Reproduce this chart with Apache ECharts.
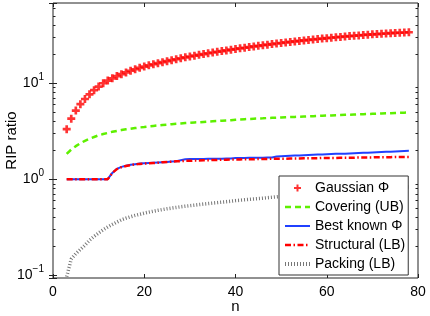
<!DOCTYPE html>
<html><head><meta charset="utf-8">
<script src="https://cdn.jsdelivr.net/npm/echarts@6/dist/echarts.min.js"></script>
<style>html,body{margin:0;padding:0;background:#fff}#c{width:430px;height:316px}</style>
</head><body><div id="c"></div>
<script>
// ---- data ----
const nValues = [3,4,5,6,7,8,9,10,11,12,13,14,15,16,17,18,19,20,21,22,23,24,25,26,27,28,29,30,31,32,33,34,35,36,37,38,39,40,41,42,43,44,45,46,47,48,49,50,51,52,53,54,55,56,57,58,59,60,61,62,63,64,65,66,67,68,69,70,71,72,73,74,75,76,77,78];
const gaussianPhi = [3.3,4.25,5.15,6.0,6.8,7.6,8.4,9.15,9.9,10.55,11.15,11.75,12.31,12.84,13.35,13.84,14.31,14.76,15.19,15.6,16.0,16.4,16.8,17.2,17.6,18.0,18.4,18.78,19.16,19.54,19.91,20.28,20.65,21.02,21.38,21.74,22.1,22.45,22.81,23.17,23.53,23.88,24.23,24.58,24.93,25.27,25.61,25.95,26.28,26.61,26.94,27.26,27.58,27.9,28.21,28.52,28.83,29.13,29.43,29.73,30.02,30.3,30.58,30.85,31.12,31.38,31.63,31.88,32.12,32.35,32.57,32.78,32.98,33.17,33.35,33.52];
const coveringUB = [1.83,2.03,2.2,2.36,2.5,2.63,2.74,2.85,2.94,3.02,3.1,3.17,3.23,3.29,3.34,3.39,3.44,3.48,3.53,3.57,3.61,3.65,3.68,3.72,3.75,3.78,3.82,3.85,3.88,3.9,3.93,3.96,3.99,4.01,4.04,4.06,4.09,4.13,4.16,4.19,4.22,4.24,4.26,4.28,4.31,4.33,4.35,4.37,4.39,4.41,4.43,4.45,4.47,4.49,4.51,4.53,4.55,4.57,4.59,4.61,4.63,4.65,4.67,4.69,4.71,4.73,4.75,4.77,4.79,4.81,4.82,4.84,4.86,4.88,4.9,4.92];
const bestKnownPhi = [1,1,1,1,1,1,1,1,1,1,1.16,1.28,1.34,1.38,1.41,1.43,1.45,1.46,1.47,1.48,1.49,1.5,1.51,1.52,1.53,1.57,1.61,1.62,1.62,1.62,1.62,1.63,1.63,1.63,1.63,1.64,1.64,1.66,1.66,1.66,1.67,1.67,1.67,1.67,1.68,1.68,1.72,1.73,1.74,1.75,1.76,1.76,1.77,1.78,1.79,1.8,1.8,1.81,1.82,1.83,1.84,1.84,1.85,1.86,1.87,1.88,1.88,1.89,1.9,1.91,1.92,1.93,1.94,1.95,1.96,1.97];
const structuralLB = [1,1,1,1,1,1,1,1,1,1,1.16,1.27,1.33,1.37,1.4,1.42,1.44,1.45,1.46,1.47,1.48,1.5,1.51,1.52,1.53,1.54,1.55,1.55,1.56,1.56,1.57,1.57,1.58,1.58,1.59,1.59,1.6,1.6,1.6,1.61,1.61,1.61,1.62,1.62,1.62,1.63,1.63,1.63,1.63,1.64,1.64,1.64,1.65,1.65,1.65,1.65,1.66,1.66,1.66,1.66,1.67,1.67,1.67,1.67,1.68,1.68,1.68,1.68,1.69,1.69,1.69,1.69,1.7,1.7,1.7,1.7];
const packingLB = [0.097,0.148,0.168,0.186,0.206,0.232,0.254,0.276,0.298,0.318,0.338,0.358,0.378,0.393,0.407,0.42,0.431,0.443,0.454,0.464,0.474,0.483,0.492,0.5,0.508,0.516,0.523,0.53,0.537,0.544,0.551,0.557,0.564,0.57,0.577,0.583,0.59,0.598,0.604,0.61,0.616,0.622,0.628,0.634,0.641,0.648,0.655,0.662,0.668,0.674,0.68,0.686,0.692,0.698,0.704,0.71,0.716,0.722,0.728,0.734,0.74,0.746,0.752,0.758,0.764,0.77,0.776,0.782,0.788,0.794,0.8,0.806,0.812,0.818,0.824,0.83];
const seriesNames = ['Gaussian \u03A6','Covering (UB)','Best known \u03A6','Structural (LB)','Packing (LB)'];
const xTickValues = [0,20,40,60,80];
const yMinorTicks = [0.2,0.3,0.4,0.5,0.6,0.7,0.8,0.9,2,3,4,5,6,7,8,9,20,30,40,50,60];
const yMin = 0.094, yMax = 67.5;

// ---- chart ----
const FONT = 'Liberation Sans, Arial, Helvetica, sans-serif';
const pair = arr => nValues.map((n, i) => [n, arr[i]]);
const plusPath = 'path://M2,0H4V2H6V4H4V6H2V4H0V2H2Z';
const plusLegend = 'path://M0,0M25,14M11.5,3.5H13.5V6H16V8H13.5V10.5H11.5V8H9V6H11.5Z';
const hideSym = {opacity: 0, color: 'transparent', borderWidth: 0};

const chart = echarts.init(document.getElementById('c'), null, {renderer: 'canvas'});
const yLabel = v => {
  const e = Math.log10(v), r = Math.round(e);
  if (Math.abs(e - r) > 1e-6) return '';
  return '{b|10}{s|' + (r < 0 ? '\u2212' + (-r) : r) + '}';
};
const yAxisBase = {
  type: 'log', logBase: 10, min: yMin, max: yMax,
  axisLine: {show: false}, splitLine: {show: false},
  axisTick: {show: true, inside: true, length: 4, lineStyle: {color: '#222'}}
};
chart.setOption({
  animation: false,
  backgroundColor: '#fff',
  textStyle: {fontFamily: FONT},
  grid: {left: 53, right: 12, top: 3, bottom: 38, containLabel: false, outerBoundsMode: 'none',
         show: true, borderColor: '#222', borderWidth: 1, backgroundColor: 'transparent'},
  xAxis: [{
    type: 'value', min: 0, max: 80, interval: 20, position: 'bottom',
    name: 'n', nameLocation: 'middle', nameGap: 21, nameMoveOverlap: false,
    nameTextStyle: {fontSize: 15, color: '#000', fontFamily: FONT},
    axisLine: {show: false}, splitLine: {show: false},
    axisTick: {show: true, inside: true, length: 4, lineStyle: {color: '#222'}},
    axisLabel: {fontSize: 14, color: '#000', margin: 7, fontFamily: FONT}
  }, {
    type: 'value', min: 0, max: 80, interval: 20, position: 'top',
    axisLine: {show: false}, splitLine: {show: false}, axisLabel: {show: false},
    axisTick: {show: true, inside: true, length: 4, lineStyle: {color: '#222'}}
  }],
  yAxis: [Object.assign({}, yAxisBase, {
    position: 'left',
    name: 'RIP ratio', nameLocation: 'middle', nameGap: 34, nameMoveOverlap: false,
    nameTextStyle: {fontSize: 15, color: '#000', fontFamily: FONT},
    axisLabel: {
      margin: 9, formatter: yLabel, showMinLabel: true, showMaxLabel: true,
      rich: {
        b: {fontSize: 14, color: '#000', fontFamily: FONT, verticalAlign: 'middle'},
        s: {fontSize: 10, color: '#000', fontFamily: FONT, verticalAlign: 'middle', padding: [0, 0, 12, 0]}
      }
    }
  }), Object.assign({}, yAxisBase, {position: 'right', axisLabel: {show: false}})],
  legend: {
    orient: 'vertical', left: 279, top: 176,
    backgroundColor: '#fff', borderColor: '#333', borderWidth: 1,
    padding: [5, 3, 4, 4], itemGap: 5, itemWidth: 25, itemHeight: 14,
    selectedMode: false,
    textStyle: {fontSize: 14, color: '#000', fontFamily: FONT},
    data: [
      {name: seriesNames[0], icon: plusLegend, itemStyle: {color: '#ff0000'}},
      {name: seriesNames[1], lineStyle: {width: 2.5}, itemStyle: hideSym},
      {name: seriesNames[2], lineStyle: {width: 2}, itemStyle: hideSym},
      {name: seriesNames[3], lineStyle: {width: 2.5}, itemStyle: hideSym},
      {name: seriesNames[4], lineStyle: {width: 4}, itemStyle: hideSym}
    ]
  },
  series: [
    {name: seriesNames[4], type: 'line', data: pair(packingLB), symbol: 'none',
     lineStyle: {color: '#777777', width: 3.5, type: [1, 2], cap: 'butt'}, itemStyle: {color: '#777777'}},
    {name: seriesNames[1], type: 'line', data: pair(coveringUB), symbol: 'none',
     lineStyle: {color: '#5ef000', width: 2.5, type: [6, 4], cap: 'butt'}, itemStyle: {color: '#5ef000'}},
    {name: seriesNames[2], type: 'line', data: pair(bestKnownPhi), symbol: 'none',
     lineStyle: {color: '#2040ff', width: 2}, itemStyle: {color: '#2040ff'}},
    {name: seriesNames[3], type: 'line', data: pair(structuralLB), symbol: 'none',
     lineStyle: {color: '#ff0000', width: 2.5, type: [6, 2.5, 1.5, 2.5], cap: 'butt'}, itemStyle: {color: '#ff0000'}},
    {name: seriesNames[0], type: 'scatter', data: pair(gaussianPhi), symbol: plusPath, symbolSize: 8,
     itemStyle: {color: '#ff0000'}},
    {type: 'custom', silent: true, z: 5, data: yMinorTicks.map(v => [0, v]),
     renderItem: function (params, api) {
       const cs = params.coordSys;
       const y = Math.round(api.coord([0, api.value(1)])[1]) + 0.5;
       return {type: 'group', children: [
         {type: 'line', shape: {x1: cs.x, y1: y, x2: cs.x + 2.5, y2: y}, style: {stroke: '#222', lineWidth: 1}},
         {type: 'line', shape: {x1: cs.x + cs.width, y1: y, x2: cs.x + cs.width - 2.5, y2: y}, style: {stroke: '#222', lineWidth: 1}}
       ]};
     }}
  ]
});
</script></body></html>
